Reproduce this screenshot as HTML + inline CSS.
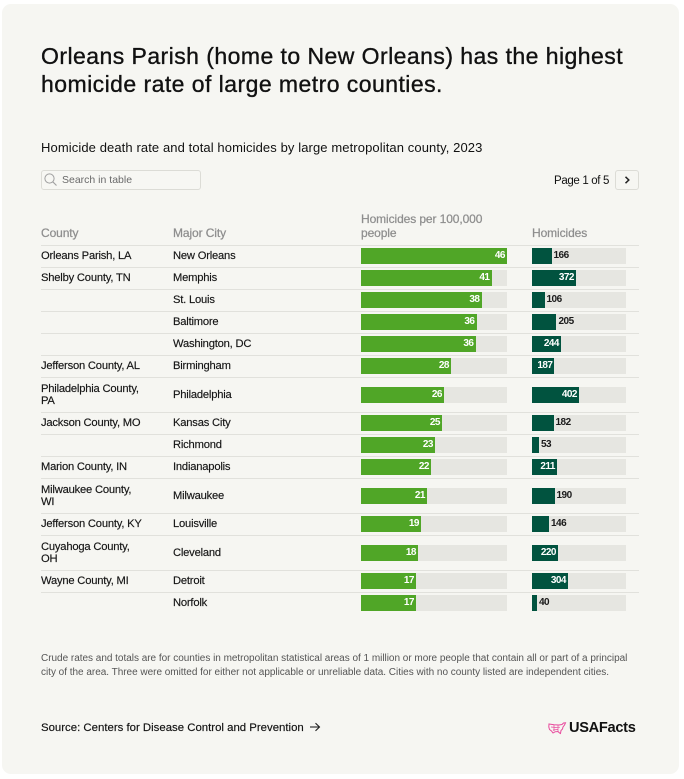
<!DOCTYPE html>
<html><head><meta charset="utf-8">
<style>
*{margin:0;padding:0;box-sizing:border-box}
html,body{width:684px;height:779px;background:#fff;overflow:hidden}
body{position:relative;font-family:"Liberation Sans",Arial,sans-serif;color:#141414}
.card{position:absolute;left:2px;top:4px;width:677px;height:770px;background:#f6f6f2;border-radius:9px}
.abs{position:absolute;white-space:nowrap}
.title{left:41px;top:41.5px;font-size:23px;line-height:28.5px;letter-spacing:0.45px;-webkit-text-stroke:0.35px #111;color:#111}
.sub{left:41px;top:140.2px;font-size:13px;line-height:15px;letter-spacing:0.1px;color:#111}
.search{left:41px;top:170px;width:160px;height:19.5px;border:1px solid #dcdcd6;border-radius:3px;background:#f7f7f3}
.stext{left:62px;top:174px;font-size:10.5px;line-height:13px;color:#6a6a6a;letter-spacing:0px}
.page{left:520px;width:89px;text-align:right;top:173.5px;font-size:11.5px;line-height:14px;color:#111;letter-spacing:-0.35px}
.btn{left:615px;top:170px;width:23.5px;height:19.5px;border:1px solid #dcdcd6;border-radius:3px}
.hd{font-size:12px;line-height:14px;color:#8e8e8e;letter-spacing:-0.1px;-webkit-text-stroke:0.25px #8e8e8e}
.line{position:absolute;left:41px;width:598px;height:1px;background:#e1e1dc}
.cell{position:absolute;display:flex;align-items:center;font-size:11.2px;line-height:12.2px;letter-spacing:-0.2px;color:#151515;-webkit-text-stroke:0.15px #151515;white-space:nowrap}
.trk{position:absolute;height:16px;background:#e6e6e1}
.g{position:absolute;height:16px;background:#50a627}
.d{position:absolute;height:16px;background:#01533f}
.lbl{position:absolute;font-size:10px;line-height:16px;height:16px;letter-spacing:-0.5px;font-weight:700}
.w{color:#fff;text-align:right}
.k{color:#1a1a1a}
.note{left:41px;top:651.5px;font-size:10px;line-height:14.7px;color:#555;letter-spacing:-0.02px}
.src{left:41px;top:720.5px;font-size:11.4px;line-height:14px;color:#111;letter-spacing:0px;-webkit-text-stroke:0.15px #111}
.logo{left:569px;top:719px;font-size:14.6px;line-height:18px;font-weight:700;letter-spacing:-0.3px;color:#111}
</style></head><body>
<div class="card"></div>

<div class="abs title">Orleans Parish (home to New Orleans) has the highest<br>homicide rate of large metro counties.</div>
<div class="abs sub">Homicide death rate and total homicides by large metropolitan county, 2023</div>

<div class="abs search"></div>
<svg class="abs" style="left:43px;top:172px" width="16" height="16" viewBox="0 0 16 16"><circle cx="6.5" cy="6.5" r="4.6" fill="none" stroke="#a0a0a0" stroke-width="1"/><line x1="9.8" y1="9.8" x2="13.5" y2="13.5" stroke="#a0a0a0" stroke-width="1.1"/></svg>
<div class="abs stext">Search in table</div>

<div class="abs page">Page 1 of 5</div>
<div class="abs btn"></div>
<svg class="abs" style="left:622px;top:175px" width="10" height="10" viewBox="0 0 10 10"><polyline points="3.5,1.8 6.8,5 3.5,8.2" fill="none" stroke="#222" stroke-width="1.5"/></svg>

<div class="abs hd" style="left:41px;top:226px">County</div>
<div class="abs hd" style="left:173px;top:226px">Major City</div>
<div class="abs hd" style="left:361px;top:212px;line-height:14px">Homicides per 100,000<br>people</div>
<div class="abs hd" style="left:532px;top:226px">Homicides</div>

<!-- separators -->
<div class="line" style="top:245px"></div>
<div class="line" style="top:267px"></div>
<div class="line" style="top:289px"></div>
<div class="line" style="top:311px"></div>
<div class="line" style="top:333px"></div>
<div class="line" style="top:355px"></div>
<div class="line" style="top:377px"></div>
<div class="line" style="top:412px"></div>
<div class="line" style="top:434px"></div>
<div class="line" style="top:456px"></div>
<div class="line" style="top:478px"></div>
<div class="line" style="top:513px"></div>
<div class="line" style="top:535px"></div>
<div class="line" style="top:570px"></div>
<div class="line" style="top:592px"></div>

<!-- Row 1 -->
<div class="cell" style="left:41px;top:246px;height:21px">Orleans Parish, LA</div>
<div class="cell" style="left:173px;top:246px;height:21px">New Orleans</div>
<div class="trk" style="left:361px;top:248px;width:146px"></div><div class="g" style="left:361px;top:248px;width:146px"></div><div class="lbl w" style="left:361px;top:248px;width:144px">46</div>
<div class="trk" style="left:532px;top:248px;width:94px"></div><div class="d" style="left:532px;top:248px;width:20px"></div><div class="lbl k" style="left:553.5px;top:248px">166</div>

<!-- Row 2 -->
<div class="cell" style="left:41px;top:268px;height:21px">Shelby County, TN</div>
<div class="cell" style="left:173px;top:268px;height:21px">Memphis</div>
<div class="trk" style="left:361px;top:270px;width:146px"></div><div class="g" style="left:361px;top:270px;width:130.5px"></div><div class="lbl w" style="left:361px;top:270px;width:128.5px">41</div>
<div class="trk" style="left:532px;top:270px;width:94px"></div><div class="d" style="left:532px;top:270px;width:44px"></div><div class="lbl w" style="left:532px;top:270px;width:42px">372</div>

<!-- Row 3 -->
<div class="cell" style="left:173px;top:290px;height:21px">St. Louis</div>
<div class="trk" style="left:361px;top:292px;width:146px"></div><div class="g" style="left:361px;top:292px;width:120.5px"></div><div class="lbl w" style="left:361px;top:292px;width:118.5px">38</div>
<div class="trk" style="left:532px;top:292px;width:94px"></div><div class="d" style="left:532px;top:292px;width:13px"></div><div class="lbl k" style="left:546.5px;top:292px">106</div>

<!-- Row 4 -->
<div class="cell" style="left:173px;top:312px;height:21px">Baltimore</div>
<div class="trk" style="left:361px;top:314px;width:146px"></div><div class="g" style="left:361px;top:314px;width:115.5px"></div><div class="lbl w" style="left:361px;top:314px;width:113.5px">36</div>
<div class="trk" style="left:532px;top:314px;width:94px"></div><div class="d" style="left:532px;top:314px;width:24px"></div><div class="lbl k" style="left:558.5px;top:314px">205</div>

<!-- Row 5 -->
<div class="cell" style="left:173px;top:334px;height:21px">Washington, DC</div>
<div class="trk" style="left:361px;top:336px;width:146px"></div><div class="g" style="left:361px;top:336px;width:114.5px"></div><div class="lbl w" style="left:361px;top:336px;width:112.5px">36</div>
<div class="trk" style="left:532px;top:336px;width:94px"></div><div class="d" style="left:532px;top:336px;width:29px"></div><div class="lbl w" style="left:532px;top:336px;width:27px">244</div>

<!-- Row 6 -->
<div class="cell" style="left:41px;top:356px;height:21px">Jefferson County, AL</div>
<div class="cell" style="left:173px;top:356px;height:21px">Birmingham</div>
<div class="trk" style="left:361px;top:358px;width:146px"></div><div class="g" style="left:361px;top:358px;width:90px"></div><div class="lbl w" style="left:361px;top:358px;width:88px">28</div>
<div class="trk" style="left:532px;top:358px;width:94px"></div><div class="d" style="left:532px;top:358px;width:22px"></div><div class="lbl w" style="left:532px;top:358px;width:20.5px">187</div>

<!-- Row 7 -->
<div class="cell" style="left:41px;top:378px;height:34px">Philadelphia County,<br>PA</div>
<div class="cell" style="left:173px;top:378px;height:34px">Philadelphia</div>
<div class="trk" style="left:361px;top:387px;width:146px"></div><div class="g" style="left:361px;top:387px;width:83px"></div><div class="lbl w" style="left:361px;top:387px;width:81px">26</div>
<div class="trk" style="left:532px;top:387px;width:94px"></div><div class="d" style="left:532px;top:387px;width:47px"></div><div class="lbl w" style="left:532px;top:387px;width:45px">402</div>

<!-- Row 8 -->
<div class="cell" style="left:41px;top:413px;height:21px">Jackson County, MO</div>
<div class="cell" style="left:173px;top:413px;height:21px">Kansas City</div>
<div class="trk" style="left:361px;top:415px;width:146px"></div><div class="g" style="left:361px;top:415px;width:81px"></div><div class="lbl w" style="left:361px;top:415px;width:79px">25</div>
<div class="trk" style="left:532px;top:415px;width:94px"></div><div class="d" style="left:532px;top:415px;width:21.5px"></div><div class="lbl k" style="left:555.5px;top:415px">182</div>

<!-- Row 9 -->
<div class="cell" style="left:173px;top:435px;height:21px">Richmond</div>
<div class="trk" style="left:361px;top:437px;width:146px"></div><div class="g" style="left:361px;top:437px;width:74px"></div><div class="lbl w" style="left:361px;top:437px;width:72px">23</div>
<div class="trk" style="left:532px;top:437px;width:94px"></div><div class="d" style="left:532px;top:437px;width:7px"></div><div class="lbl k" style="left:541px;top:437px">53</div>

<!-- Row 10 -->
<div class="cell" style="left:41px;top:457px;height:21px">Marion County, IN</div>
<div class="cell" style="left:173px;top:457px;height:21px">Indianapolis</div>
<div class="trk" style="left:361px;top:459px;width:146px"></div><div class="g" style="left:361px;top:459px;width:70px"></div><div class="lbl w" style="left:361px;top:459px;width:68px">22</div>
<div class="trk" style="left:532px;top:459px;width:94px"></div><div class="d" style="left:532px;top:459px;width:25px"></div><div class="lbl w" style="left:532px;top:459px;width:23px">211</div>

<!-- Row 11 -->
<div class="cell" style="left:41px;top:479px;height:34px">Milwaukee County,<br>WI</div>
<div class="cell" style="left:173px;top:479px;height:34px">Milwaukee</div>
<div class="trk" style="left:361px;top:488px;width:146px"></div><div class="g" style="left:361px;top:488px;width:66px"></div><div class="lbl w" style="left:361px;top:488px;width:64px">21</div>
<div class="trk" style="left:532px;top:488px;width:94px"></div><div class="d" style="left:532px;top:488px;width:23px"></div><div class="lbl k" style="left:556.5px;top:488px">190</div>

<!-- Row 12 -->
<div class="cell" style="left:41px;top:514px;height:21px">Jefferson County, KY</div>
<div class="cell" style="left:173px;top:514px;height:21px">Louisville</div>
<div class="trk" style="left:361px;top:516px;width:146px"></div><div class="g" style="left:361px;top:516px;width:60px"></div><div class="lbl w" style="left:361px;top:516px;width:58px">19</div>
<div class="trk" style="left:532px;top:516px;width:94px"></div><div class="d" style="left:532px;top:516px;width:17px"></div><div class="lbl k" style="left:551px;top:516px">146</div>

<!-- Row 13 -->
<div class="cell" style="left:41px;top:536px;height:34px">Cuyahoga County,<br>OH</div>
<div class="cell" style="left:173px;top:536px;height:34px">Cleveland</div>
<div class="trk" style="left:361px;top:545px;width:146px"></div><div class="g" style="left:361px;top:545px;width:57px"></div><div class="lbl w" style="left:361px;top:545px;width:55px">18</div>
<div class="trk" style="left:532px;top:545px;width:94px"></div><div class="d" style="left:532px;top:545px;width:26px"></div><div class="lbl w" style="left:532px;top:545px;width:24px">220</div>

<!-- Row 14 -->
<div class="cell" style="left:41px;top:571px;height:21px">Wayne County, MI</div>
<div class="cell" style="left:173px;top:571px;height:21px">Detroit</div>
<div class="trk" style="left:361px;top:573px;width:146px"></div><div class="g" style="left:361px;top:573px;width:55px"></div><div class="lbl w" style="left:361px;top:573px;width:53px">17</div>
<div class="trk" style="left:532px;top:573px;width:94px"></div><div class="d" style="left:532px;top:573px;width:36px"></div><div class="lbl w" style="left:532px;top:573px;width:34px">304</div>

<!-- Row 15 -->
<div class="cell" style="left:173px;top:593px;height:21px">Norfolk</div>
<div class="trk" style="left:361px;top:595px;width:146px"></div><div class="g" style="left:361px;top:595px;width:55px"></div><div class="lbl w" style="left:361px;top:595px;width:53px">17</div>
<div class="trk" style="left:532px;top:595px;width:94px"></div><div class="d" style="left:532px;top:595px;width:5px"></div><div class="lbl k" style="left:539px;top:595px">40</div>

<div class="abs note">Crude rates and totals are for counties in metropolitan statistical areas of 1 million or more people that contain all or part of a principal<br>city of the area. Three were omitted for either not applicable or unreliable data. Cities with no county listed are independent cities.</div>

<div class="abs src">Source: Centers for Disease Control and Prevention</div>
<svg class="abs" style="left:309px;top:722px" width="12" height="10" viewBox="0 0 12 10"><line x1="1" y1="5" x2="10.5" y2="5" stroke="#222" stroke-width="1.1"/><polyline points="6.5,1.2 10.5,5 6.5,8.8" fill="none" stroke="#222" stroke-width="1.1"/></svg>

<svg class="abs" style="left:548px;top:722px" width="19" height="13" viewBox="0 0 19 13">
<path d="M1,2 L6,2.8 L11,3 L14,2.5 L15.5,1 L17.5,0.8 L16.5,3 L15,5 L14.5,7 L13,8.5 L12.5,11.5 L11.5,11 L10,9.5 L7,9.8 L5,11 L3.5,9 L1.5,7.5 L0.8,5 Z" fill="none" stroke="#e8489c" stroke-width="1"/>
<path d="M3,5 L8,5.5 L12,5.2 M5,8 L10,7.5 M6,3 L6,9 M10,3 L10,9" fill="none" stroke="#e8489c" stroke-width="0.7"/>
</svg>
<div class="abs logo">USAFacts</div>
</body></html>
